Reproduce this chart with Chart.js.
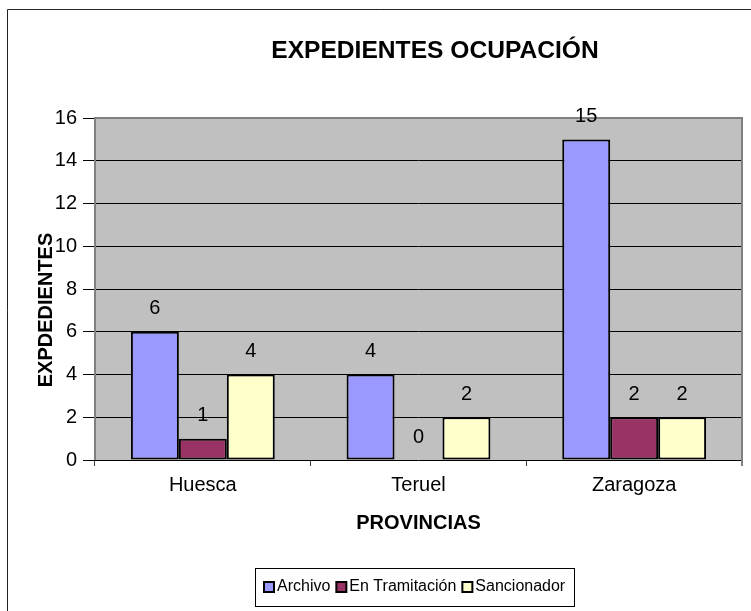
<!DOCTYPE html>
<html>
<head>
<meta charset="utf-8">
<script src="https://cdn.jsdelivr.net/npm/chart.js@4.4.0/dist/chart.umd.min.js"></script>
<style>
  html, body { margin: 0; padding: 0; background: #fff; overflow: hidden; }
  #wrap { width: 751px; height: 611px; position: relative; }
</style>
</head>
<body>
<div id="wrap"><canvas id="chart" width="751" height="611"></canvas></div>
<script>
// data
const provincias = ['Huesca', 'Teruel', 'Zaragoza'];
const seriesNames = ['Archivo', 'En Tramitación', 'Sancionador'];
const archivo = [6, 4, 15];
const enTramitacion = [1, 0, 2];
const sancionador = [4, 2, 2];
const yTicks = [0, 2, 4, 6, 8, 10, 12, 14, 16];

const chartTitle = 'EXPEDIENTES OCUPACIÓN';
const yTitle = 'EXPDEDIENTES';
const xTitle = 'PROVINCIAS';

const FONT = '"Liberation Sans", Arial, sans-serif';

// background, grey plot area, outer frame, titles
const background = {
  id: 'background',
  beforeDraw(chart) {
    const { ctx, chartArea: a } = chart;
    ctx.save();
    ctx.fillStyle = '#fff';
    ctx.fillRect(0, 0, chart.width, chart.height);
    ctx.fillStyle = '#c0c0c0';
    ctx.fillRect(a.left, a.top, a.right - a.left, a.bottom - a.top);
    // chart frame (right / bottom fall outside the picture)
    ctx.strokeStyle = '#222';
    ctx.lineWidth = 1;
    ctx.beginPath();
    ctx.moveTo(7.5, chart.height);
    ctx.lineTo(7.5, 9.5);
    ctx.lineTo(chart.width, 9.5);
    ctx.stroke();
    // chart title
    ctx.fillStyle = '#000';
    ctx.font = 'bold 24.6px ' + FONT;
    ctx.textAlign = 'center';
    ctx.textBaseline = 'middle';
    ctx.fillText(chartTitle, 435, 51);
    ctx.restore();
  },
  beforeDatasetsDraw(chart) {
    const { ctx, chartArea: a } = chart;
    ctx.save();
    ctx.strokeStyle = '#808080';
    ctx.lineWidth = 2;
    ctx.beginPath();
    ctx.moveTo(a.left, a.bottom);
    ctx.lineTo(a.left, a.top);
    ctx.lineTo(a.right, a.top);
    ctx.lineTo(a.right, a.bottom + 6);
    ctx.stroke();
    ctx.restore();
  },
  afterDraw(chart) {
    // y axis title, sits over the tick labels like in the original
    const ctx = chart.ctx;
    ctx.save();
    ctx.translate(46, 310);
    ctx.rotate(-Math.PI / 2);
    ctx.fillStyle = '#000';
    ctx.font = 'bold 20px ' + FONT;
    ctx.textAlign = 'center';
    ctx.textBaseline = 'middle';
    ctx.fillText(yTitle, 0, 0);
    ctx.restore();
  }
};

// value labels above the bars
const valueLabels = {
  id: 'valueLabels',
  afterDatasetsDraw(chart) {
    const ctx = chart.ctx;
    ctx.save();
    ctx.fillStyle = '#000';
    ctx.font = '20px ' + FONT;
    ctx.textAlign = 'center';
    ctx.textBaseline = 'middle';
    chart.data.datasets.forEach((ds, i) => {
      chart.getDatasetMeta(i).data.forEach((bar, j) => {
        ctx.fillText(String(ds.data[j]), bar.x, bar.y - 23);
      });
    });
    ctx.restore();
  }
};

// Excel-like legend with a box around it
const boxLegend = {
  id: 'boxLegend',
  afterDraw(chart) {
    const ctx = chart.ctx;
    const cx = 415, cy = 587;
    const sq = 10, gapText = 3, gapItem = 6, pad = 9;
    ctx.save();
    ctx.font = '16px ' + FONT;
    const items = chart.data.datasets.map(ds => ({
      label: ds.label,
      color: ds.backgroundColor,
      w: sq + gapText + ctx.measureText(ds.label).width
    }));
    const total = items.reduce((s, it) => s + it.w, 0) + gapItem * (items.length - 1);
    let x = Math.round(cx - total / 2);
    ctx.strokeStyle = '#000';
    ctx.lineWidth = 1;
    ctx.strokeRect(x - pad + 0.5, 568.5, Math.round(total + pad * 2), 38);
    ctx.textBaseline = 'middle';
    ctx.textAlign = 'left';
    items.forEach(it => {
      ctx.fillStyle = it.color;
      ctx.fillRect(x, cy - sq / 2, sq, sq);
      ctx.lineWidth = 2;
      ctx.strokeRect(x, cy - sq / 2, sq, sq);
      ctx.fillStyle = '#000';
      ctx.fillText(it.label, x + sq + gapText, cy);
      x += it.w + gapItem;
    });
    ctx.restore();
  }
};

const barStyle = {
  borderColor: '#000',
  borderWidth: 2,
  borderSkipped: false,
  categoryPercentage: 0.667,
  barPercentage: 1
};

new Chart(document.getElementById('chart'), {
  type: 'bar',
  data: {
    labels: provincias,
    datasets: [
      { label: seriesNames[0], data: archivo, backgroundColor: '#9999ff', ...barStyle },
      { label: seriesNames[1], data: enTramitacion, backgroundColor: '#993366', ...barStyle },
      { label: seriesNames[2], data: sancionador, backgroundColor: '#ffffcc', ...barStyle }
    ]
  },
  options: {
    responsive: false,
    animation: false,
    devicePixelRatio: 1,
    layout: { padding: { top: 118, right: 9, bottom: 76, left: 0 } },
    plugins: {
      legend: { display: false },
      title: { display: false },
      tooltip: { enabled: false }
    },
    scales: {
      x: {
        grid: {
          offset: true,
          drawOnChartArea: false,
          tickLength: 6,
          color: '#404040'
        },
        border: { display: false },
        ticks: { color: '#000', font: { family: FONT, size: 20 }, padding: 7 },
        title: {
          display: true,
          text: xTitle,
          color: '#000',
          font: { family: FONT, size: 20, weight: 'bold' },
          padding: { top: 0, bottom: 0 }
        },
        afterFit(scale) { scale.height = 75; }
      },
      y: {
        min: yTicks[0],
        max: yTicks[yTicks.length - 1],
        grid: { color: '#000', lineWidth: 1, tickLength: 12 },
        border: { display: false },
        ticks: {
          stepSize: yTicks[1] - yTicks[0],
          color: '#000',
          font: { family: FONT, size: 20 },
          padding: 6
        },
        title: { display: false },
        afterFit(scale) { scale.width = 95; }
      }
    }
  },
  plugins: [background, valueLabels, boxLegend]
});
</script>
</body>
</html>
